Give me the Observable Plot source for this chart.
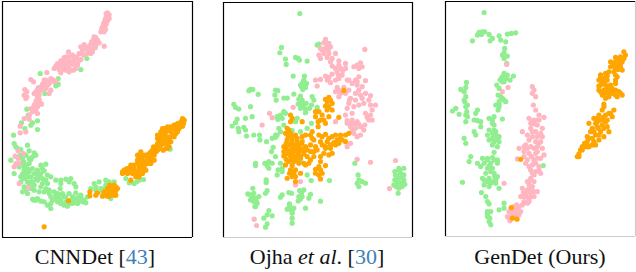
<!DOCTYPE html>
<html><head><meta charset="utf-8">
<script src="https://cdn.jsdelivr.net/npm/d3@7"></script>
<script src="https://cdn.jsdelivr.net/npm/@observablehq/plot@0.6"></script>
<style>
html,body{margin:0;padding:0;background:#fff}
#chart{position:relative;width:636px;height:272px;overflow:hidden}
#chart svg{position:absolute;top:0;background:transparent;overflow:visible}
.cap{position:absolute;top:244px;font:22px "Liberation Serif",serif;color:#111;white-space:nowrap;text-align:center;transform:translateX(-50%)}
.cap b{font-weight:normal;color:#3f80b8}
</style></head><body>
<div id="chart"></div>
<script>
const green="#90EE90", pink="#FFB6C1", orange="#FFA500";
const captions=['CNNDet [<b>43</b>]','Ojha <i>et al</i>. [<b>30</b>]','GenDet (Ours)'];
const cnnPink=[[320,38],[318,45],[322,50],[314,55],[325,44],[312,62],[320,62],[308,70],[316,72],[305,80],[312,80],[304,90],[314,88],[300,95],[310,95],[285,112],[278,118],[290,120],[272,125],[283,128],[295,128],[310,138],[283,143],[268,135],[250,133],[255,145],[265,150],[275,155],[245,150],[258,160],[235,160],[248,165],[270,160],[203,155],[197,170],[215,165],[228,170],[240,178],[180,182],[190,180],[205,180],[220,180],[232,185],[165,198],[178,198],[192,195],[205,195],[218,192],[175,208],[190,207],[205,205],[218,210],[180,218],[138,217],[90,238],[98,245],[155,238],[165,243],[145,245],[130,240],[125,252],[140,255],[120,260],[110,268],[150,270],[105,275],[118,272],[135,265],[72,268],[78,275],[70,285],[78,290],[75,295],[145,280],[110,290],[115,298],[105,305],[118,308],[100,315],[110,320],[122,312],[90,325],[105,330],[95,335],[85,345],[110,340],[70,355],[85,357],[58,378],[58,398],[75,395],[52,452],[43,468],[68,460],[52,475],[45,490],[55,490],[40,500],[55,550],[82,563],[316,40],[325,55],[318,58],[310,75],[303,85],[280,110],[287,125],[278,130],[262,140],[240,160],[225,175],[212,188],[198,188],[185,190],[170,190],[160,245],[135,248],[115,265],[125,268],[112,282],[108,298],[98,325],[110,310],[113,262],[145,250],[225,205],[195,210],[205,215],[190,172],[205,170],[220,172],[240,140],[272,145],[285,135],[180,195],[160,205],[230,195],[135,240],[150,235],[128,262],[100,280],[115,285]];
const cnnGreen=[[118,220],[240,208],[258,175],[172,235],[172,252],[165,257],[132,280],[78,327],[82,345],[110,362],[95,368],[90,375],[62,368],[72,385],[110,388],[38,405],[40,430],[45,440],[80,435],[50,445],[60,448],[85,452],[100,458],[105,465],[75,465],[65,475],[30,480],[90,478],[68,485],[85,490],[75,495],[55,500],[120,495],[135,492],[125,505],[70,510],[110,510],[130,512],[40,520],[65,522],[85,515],[100,520],[120,520],[140,525],[70,535],[90,530],[105,535],[150,530],[80,545],[95,545],[110,540],[125,550],[100,555],[120,560],[70,560],[90,565],[140,570],[65,575],[80,580],[115,575],[160,575],[130,575],[145,580],[180,540],[195,537],[210,535],[180,550],[178,565],[220,550],[225,560],[185,580],[190,590],[150,590],[155,600],[95,597],[105,600],[120,603],[130,605],[140,615],[150,625],[180,600],[195,605],[210,600],[225,595],[240,590],[250,600],[260,590],[200,618],[215,610],[230,610],[245,605],[255,608],[225,578],[240,585],[280,550],[295,545],[270,565],[285,560],[300,565],[315,540],[325,545],[315,555],[340,545],[375,535],[385,548],[400,550],[415,540],[428,538],[508,447],[330,595],[305,575],[60,530],[80,530],[95,505],[115,530],[135,540],[75,570],[85,555],[100,570],[165,540],[205,545],[235,600],[220,605],[205,610],[165,595],[175,590],[170,580],[180,610],[190,615],[150,610],[110,595],[310,565],[390,545],[408,545],[60,465],[55,470],[70,500],[80,505],[60,490],[145,570],[135,565],[75,520],[90,545],[60,545],[110,520],[125,535],[140,550],[85,475],[95,470],[165,585],[195,590],[215,590],[235,590],[205,580],[170,605],[285,570],[100,600]];
const cnnOrange=[[545,355],[540,365],[530,370],[520,375],[510,380],[500,380],[485,385],[480,395],[545,378],[535,385],[525,390],[510,395],[495,395],[470,405],[485,405],[500,410],[520,410],[490,420],[475,425],[510,425],[500,430],[480,435],[465,440],[495,445],[455,450],[470,450],[445,460],[460,465],[420,455],[430,465],[415,475],[450,475],[425,480],[440,490],[460,480],[410,490],[390,495],[378,505],[400,505],[420,500],[365,515],[380,520],[395,520],[410,520],[425,520],[435,510],[405,530],[390,540],[327,555],[345,560],[335,570],[325,575],[350,565],[340,585],[310,575],[305,588],[325,588],[290,578],[285,585],[267,575],[267,587],[203,602],[130,680],[418,462],[515,385],[505,390],[495,410],[480,415],[470,430],[460,450],[450,465],[440,470],[430,490],[420,490],[405,515],[385,510],[375,515],[415,510],[430,500],[540,375],[530,380],[490,385],[475,410],[465,455],[455,480],[445,480],[335,560],[340,575],[330,583],[315,585],[345,572],[500,445],[487,450],[510,410],[525,400],[505,420],[490,430],[470,440],[450,490],[415,490],[425,470],[410,465],[550,360],[548,370],[525,375],[505,385],[490,400],[515,405],[530,395],[470,415],[500,420],[485,425],[505,440],[458,440],[475,445],[450,455],[437,465],[422,465],[410,480],[440,480],[430,510],[415,500],[400,495],[385,505],[370,510],[395,512],[365,520],[415,530],[340,555],[320,565],[335,580],[345,585],[320,588]];
const ojhaGreen=[[263,40],[315,135],[320,132],[208,142],[203,158],[220,177],[222,193],[250,172],[258,175],[262,180],[285,183],[243,228],[277,228],[275,240],[270,250],[283,250],[268,260],[280,262],[272,268],[115,268],[122,268],[110,272],[138,283],[190,270],[197,272],[188,285],[192,300],[215,294],[225,294],[245,282],[265,288],[260,298],[270,300],[258,312],[270,310],[282,310],[300,290],[305,300],[298,315],[265,325],[280,328],[292,325],[280,338],[315,322],[65,313],[70,322],[80,327],[115,320],[75,357],[100,355],[120,350],[70,368],[60,378],[78,385],[95,382],[100,390],[80,395],[103,408],[125,405],[142,405],[143,420],[163,425],[180,415],[190,412],[195,405],[205,345],[215,335],[210,355],[197,358],[255,355],[250,365],[240,392],[265,395],[285,385],[298,370],[215,375],[200,385],[205,395],[183,442],[178,455],[190,470],[130,490],[130,497],[158,490],[170,485],[165,497],[180,490],[170,505],[205,490],[198,510],[210,515],[195,525],[265,485],[285,525],[297,542],[352,542],[162,540],[162,548],[122,565],[107,582],[120,590],[130,595],[140,590],[125,605],[135,610],[128,620],[160,580],[165,572],[210,585],[205,592],[230,578],[238,580],[262,572],[275,570],[268,580],[295,583],[290,595],[265,597],[258,603],[325,604],[232,612],[225,628],[235,628],[245,625],[240,640],[280,625],[170,632],[165,645],[155,655],[180,648],[165,672],[160,682],[240,655],[240,670],[438,525],[440,540],[450,545],[435,550],[460,550],[440,560],[548,515],[560,505],[575,505],[550,525],[565,520],[575,525],[548,540],[560,535],[575,540],[545,555],[560,550],[578,553],[560,565],[570,560],[558,580],[428,490],[120,600],[115,585],[132,603],[125,580],[562,512],[555,530],[570,530],[555,545],[568,548],[552,560],[268,318],[275,318],[232,620],[240,632],[210,505],[165,490],[260,590],[270,590],[220,340],[195,350],[190,405],[275,245],[265,255],[115,600],[130,620]];
const ojhaPink=[[340,118],[335,128],[350,130],[325,145],[340,145],[355,140],[320,165],[335,160],[350,160],[370,160],[458,148],[325,175],[355,185],[380,182],[360,198],[400,190],[445,188],[385,205],[375,215],[425,200],[440,205],[450,200],[390,225],[360,222],[340,228],[345,240],[355,248],[310,240],[325,238],[315,258],[405,240],[430,240],[460,242],[435,255],[450,260],[375,262],[370,275],[385,280],[410,270],[380,290],[430,280],[445,285],[450,295],[475,287],[415,295],[410,310],[425,320],[405,325],[440,315],[475,315],[490,315],[460,340],[475,345],[470,360],[480,360],[243,322],[172,340],[180,353],[150,375],[405,370],[420,360],[435,365],[415,380],[430,385],[445,380],[458,375],[425,400],[445,405],[435,410],[415,430],[405,440],[435,478],[475,487],[550,482],[532,566],[265,545],[250,555],[126,658],[133,677],[370,365],[455,390],[345,135],[330,150],[348,150],[345,172],[360,175],[370,205],[380,195],[435,195],[378,225],[392,212],[350,232],[415,370],[405,362],[428,372],[440,372],[420,392],[412,300],[435,245],[400,280],[400,205],[410,240],[420,250],[440,270],[460,280],[430,300],[455,310],[480,330],[465,352],[420,340],[400,345],[380,270],[395,262],[440,230],[470,300],[370,240],[380,235]];
const ojhaOrange=[[395,271],[350,292],[345,305],[360,310],[350,320],[360,330],[235,345],[240,355],[235,365],[310,335],[330,345],[350,350],[380,352],[310,350],[318,365],[340,370],[270,365],[225,385],[318,380],[235,400],[220,400],[250,405],[295,405],[270,410],[300,415],[320,405],[340,403],[385,405],[400,405],[410,400],[375,420],[400,425],[225,420],[240,420],[255,425],[270,425],[325,425],[345,425],[370,435],[215,440],[230,435],[245,440],[260,440],[280,440],[295,435],[310,440],[355,445],[215,455],[230,455],[245,455],[260,455],[275,455],[295,455],[315,450],[340,445],[350,465],[215,468],[235,468],[250,470],[265,470],[285,470],[305,470],[360,460],[230,485],[245,485],[265,475],[295,480],[325,485],[220,495],[240,497],[340,497],[260,490],[310,508],[325,510],[235,510],[250,510],[265,520],[225,535],[240,530],[320,525],[325,537],[250,545],[330,520],[340,298],[355,300],[340,318],[230,390],[228,410],[240,410],[255,415],[222,430],[238,430],[252,433],[268,432],[222,445],[238,448],[252,448],[268,448],[285,450],[222,462],[240,462],[258,462],[275,462],[330,435],[365,428],[385,415],[245,520],[232,520],[222,478],[238,478],[252,480],[310,520],[340,440],[305,455],[335,460],[325,470],[320,500],[290,490],[280,495],[305,420],[355,435],[360,410],[330,410],[350,415],[300,395],[280,405],[275,490],[250,530],[370,405],[380,430],[390,420],[345,330],[320,335],[325,360],[335,360]];
const genGreen=[[180,37],[165,97],[175,95],[182,95],[160,105],[172,103],[145,122],[195,103],[225,107],[205,115],[198,122],[230,120],[245,125],[250,102],[262,100],[275,98],[242,145],[240,158],[235,165],[250,168],[240,175],[248,190],[240,220],[250,225],[268,228],[232,235],[245,235],[258,240],[240,245],[218,255],[225,265],[127,247],[125,262],[110,268],[120,275],[222,285],[235,295],[225,305],[245,305],[125,290],[122,305],[130,315],[125,320],[95,325],[85,333],[105,343],[160,330],[155,340],[125,345],[130,350],[125,365],[215,315],[225,320],[222,330],[210,350],[195,355],[205,360],[235,357],[150,360],[160,362],[170,365],[170,380],[210,375],[195,390],[210,390],[150,395],[155,405],[190,405],[215,405],[225,410],[195,420],[210,425],[225,425],[205,435],[220,440],[120,415],[125,430],[210,457],[140,470],[135,485],[175,475],[190,475],[205,473],[220,480],[160,490],[180,490],[200,490],[220,490],[170,500],[190,505],[205,505],[185,520],[210,520],[175,535],[195,535],[220,530],[180,555],[195,560],[215,550],[225,565],[115,547],[172,578],[185,590],[190,605],[195,612],[240,610],[225,630],[240,625],[190,635],[200,635],[190,650],[195,665],[200,675],[358,497],[205,400],[215,395],[205,415],[218,418],[200,515],[212,530],[205,545],[190,545],[230,290],[235,245],[225,312],[195,498],[120,300],[128,335],[190,642],[197,655],[205,370],[190,480],[210,480],[180,540],[200,550],[215,540],[228,240],[240,300],[235,230]];
const genPink=[[248,193],[235,275],[252,262],[325,260],[330,270],[325,280],[335,290],[328,315],[335,330],[345,345],[360,352],[315,355],[330,360],[320,370],[340,375],[355,385],[320,385],[295,395],[335,395],[355,410],[310,405],[325,410],[350,425],[300,440],[285,445],[320,440],[340,440],[355,445],[300,455],[315,460],[335,460],[360,465],[280,477],[310,480],[330,480],[350,475],[300,470],[325,495],[345,500],[335,515],[350,520],[320,535],[330,545],[315,555],[240,550],[295,565],[310,570],[330,575],[340,575],[290,590],[305,590],[320,590],[330,590],[300,605],[315,605],[270,620],[280,625],[255,635],[275,635],[290,635],[250,650],[265,650],[285,645],[258,663],[330,372],[345,360],[325,395],[315,420],[335,425],[340,455],[322,470],[340,475],[320,510],[330,525],[315,545],[325,560],[305,580],[318,578],[298,578],[315,598],[262,640],[275,648],[270,630],[325,365],[340,360],[350,400],[340,410],[345,430],[305,435],[330,445],[310,445],[305,490],[315,500],[335,490],[345,510],[325,520],[310,545],[300,590],[320,565],[310,610],[285,620],[295,615],[260,625],[278,615],[255,655]];
const genOrange=[[600,155],[605,165],[590,170],[575,172],[560,185],[575,185],[595,185],[590,200],[560,200],[575,205],[595,210],[545,220],[555,215],[530,225],[575,225],[540,235],[525,240],[550,240],[575,240],[580,230],[530,255],[545,255],[560,255],[575,250],[525,270],[540,270],[575,270],[590,280],[535,285],[555,290],[580,290],[595,285],[540,312],[570,330],[535,330],[525,345],[545,345],[565,350],[510,355],[530,360],[550,360],[495,370],[515,370],[535,375],[550,380],[530,395],[500,395],[490,410],[515,405],[540,410],[555,395],[490,425],[510,425],[525,420],[475,440],[495,440],[515,435],[470,450],[465,462],[460,470],[290,478],[262,623],[265,655],[279,658],[585,180],[568,195],[582,208],[540,248],[555,270],[568,280],[545,280],[530,225],[525,258],[538,352],[555,340],[523,385],[505,385],[505,415],[485,440],[520,380],[535,360],[482,430],[600,175],[590,190],[570,215],[580,195],[550,228],[530,235],[535,250],[550,265],[565,265],[585,275],[545,295],[560,280],[530,275],[575,285],[540,320],[560,340],[545,365],[520,355],[540,385],[525,405],[510,395],[495,415],[505,435],[490,440],[475,450],[465,470],[520,365]];

const panels=[
 {left:0,  x:[5,575],  y:[4,712],  g:cnnGreen, p:cnnPink, o:cnnOrange, cx:95,  edges:{t:"#000",l:"#000",r:"#000",b:"#000"}},
 {left:212,x:[34,601], y:[7,713],  g:ojhaGreen,p:ojhaPink,o:ojhaOrange,cx:317, edges:{t:"#000",l:"#000",r:"#000",b:"#ccc"}},
 {left:424,x:[64,635], y:[4,710],  g:genGreen, p:genPink, o:genOrange, cx:540, edges:{t:"#000",l:"#000",r:"#ccc",b:"#ccc"}}
];
const root=document.getElementById("chart");
panels.forEach((p,i)=>{
  const w=Math.round((p.x[1]-p.x[0])/3), h=Math.round((p.y[1]-p.y[0])/3);
  const pl=Math.round(p.left+p.x[0]/3), pt=Math.round(p.y[0]/3);
  const fig=Plot.plot({
    width:w,height:h,margin:0,
    style:{background:"transparent",overflow:"visible"},
    x:{domain:p.x,range:[0,w],axis:null},y:{domain:p.y,range:[0,h],axis:null},
    marks:[
      Plot.dot(p.g,{x:d=>d[0],y:d=>d[1],r:2.6,fill:green}),
      Plot.dot(p.p,{x:d=>d[0],y:d=>d[1],r:2.6,fill:pink}),
      Plot.dot(p.o,{x:d=>d[0],y:d=>d[1],r:2.6,fill:orange}),
      Plot.ruleY([p.y[1]],{stroke:p.edges.b,strokeWidth:1.2}),
      Plot.ruleX([p.x[1]],{stroke:p.edges.r,strokeWidth:1.2}),
      Plot.ruleY([p.y[0]],{stroke:p.edges.t,strokeWidth:1.2}),
      Plot.ruleX([p.x[0]],{stroke:p.edges.l,strokeWidth:1.2})
    ]
  });
  fig.style.left=pl+"px"; fig.style.top=pt+"px";
  root.append(fig);
  const c=document.createElement("div");
  c.className="cap"; c.style.left=p.cx+"px"; c.innerHTML=captions[i];
  root.append(c);
});
</script></body></html>
